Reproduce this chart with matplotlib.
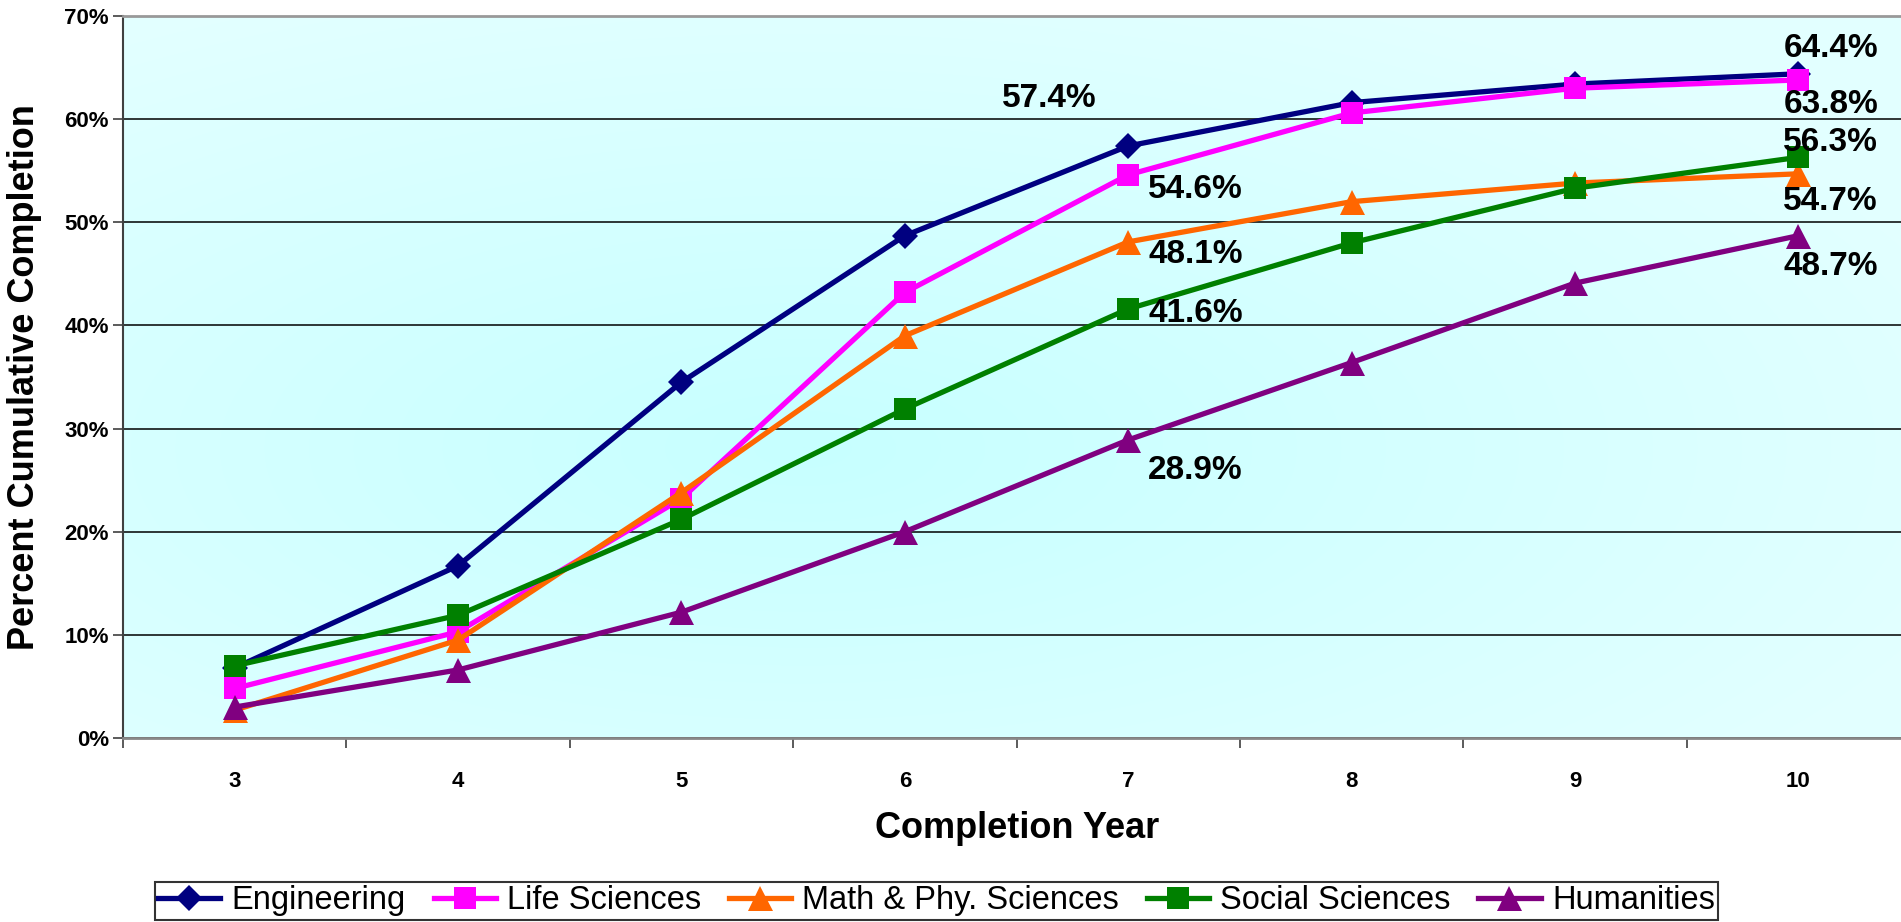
import numpy as np
import matplotlib.pyplot as plt
from matplotlib.ticker import FixedLocator, FuncFormatter

plt.rcParams['font.family'] = ['Liberation Sans', 'DejaVu Sans']

# ---------------- DATA ----------------
years = [3, 4, 5, 6, 7, 8, 9, 10]
engineering = [6.8, 16.7, 34.5, 48.7, 57.4, 61.6, 63.4, 64.4]
life_sciences = [4.8, 10.3, 23.2, 43.2, 54.6, 60.6, 63.0, 63.8]
math_phys = [2.7, 9.5, 23.8, 39.0, 48.1, 52.0, 53.8, 54.7]
social_sciences = [7.0, 11.9, 21.2, 31.9, 41.6, 48.0, 53.3, 56.3]
humanities = [3.0, 6.6, 12.2, 20.0, 28.9, 36.4, 44.1, 48.7]

series_names = ["Engineering", "Life Sciences", "Math & Phy. Sciences",
                "Social Sciences", "Humanities"]
labelled_years = [7, 10]

# ---------------- FIGURE ----------------
W, H = 1901, 922
fig = plt.figure(figsize=(W / 100, H / 100), dpi=100)
ax = fig.add_axes([123 / W, 1 - 738 / H, (1910 - 123) / W, (738 - 16) / H])

# light cyan radial gradient for the plot area
gx, gy = np.meshgrid(np.linspace(0, 1, 400), np.linspace(0, 1, 200))
r = np.sqrt(((gx - 0.38) / 0.7) ** 2 + ((gy - 0.4) / 0.7) ** 2)
r = np.clip(r, 0, 1)
c0 = np.array([0.78, 1.0, 1.0])
c1 = np.array([0.89, 1.0, 1.0])
img = c0[None, None, :] * (1 - r[..., None]) + c1[None, None, :] * r[..., None]
ax.imshow(img, extent=(0, 1, 0, 1), transform=ax.transAxes, aspect="auto",
          origin="lower", zorder=0, interpolation="bilinear")

styles = [
    (engineering, "#000080", "D", 13),
    (life_sciences, "#FF00FF", "s", 16),
    (math_phys, "#FF6600", "^", 18),
    (social_sciences, "#008000", "s", 16),
    (humanities, "#800080", "^", 18),
]

for (vals, col, mk, ms), name in zip(styles, series_names):
    ax.plot(years, vals, color=col, lw=3.8, marker=mk, markersize=ms,
            markeredgewidth=0, label=name, zorder=3)

# data labels (pixel offsets from the point, baseline aligned)
offsets = {
    (0, 7): (-32, 39, "right"), (1, 7): (20, -23, "left"), (2, 7): (20, -21, "left"),
    (3, 7): (20, -13, "left"), (4, 7): (20, -39, "left"),
    (0, 10): (-15, 17, "left"), (1, 10): (-15, -33, "left"), (2, 10): (-15, -36, "left"),
    (3, 10): (-15, 6, "left"), (4, 10): (-15, -39, "left"),
}
for i, (vals, col, mk, ms) in enumerate(styles):
    for yr in labelled_years:
        v = vals[years.index(yr)]
        dx, dy, ha = offsets[(i, yr)]
        ax.annotate(f"{v:.1f}%", (yr, v), xytext=(dx, dy), textcoords="offset pixels",
                    ha=ha, va="baseline", fontsize=24, fontweight="bold", zorder=4)

# ---------------- AXES ----------------
ax.set_xlim(2.5, 10.5)
ax.set_ylim(0, 70)
ax.set_yticks(range(0, 71, 10))
ax.yaxis.set_major_formatter(FuncFormatter(lambda v, p: f"{int(v)}%"))
ax.set_xticks(years)
ax.xaxis.set_minor_locator(FixedLocator(np.arange(2.5, 10.6, 1)))
ax.tick_params(axis="x", which="major", length=0, pad=24, labelsize=16)
ax.tick_params(axis="x", which="minor", length=7, width=1.2, color="#404040")
ax.tick_params(axis="y", length=7, width=1.2, pad=3, labelsize=16, color="#404040")
for lab in ax.get_xticklabels() + ax.get_yticklabels():
    lab.set_fontweight("bold")

ax.yaxis.grid(True, color="black", lw=1.1, zorder=1)
ax.set_axisbelow(True)
ax.spines["right"].set_visible(False)
ax.spines["top"].set_color("#999999")
ax.spines["top"].set_linewidth(2)
ax.spines["bottom"].set_color("#888888")
ax.spines["bottom"].set_linewidth(2)
ax.spines["left"].set_color("#404040")
ax.spines["left"].set_linewidth(1.5)

fig.text(25 / W, 1 - 377 / H, "Percent Cumulative Completion", rotation=90,
         ha="center", va="center", fontsize=26, fontweight="bold")
fig.text(1017 / W, 1 - 828 / H, "Completion Year", ha="center", va="center",
         fontsize=26, fontweight="bold")

leg = fig.legend(loc="upper left", bbox_to_anchor=(155 / W, 1 - 882 / H), ncol=5,
                 fontsize=23.5, frameon=True, fancybox=False, edgecolor="black",
                 borderaxespad=0, borderpad=0.1, handlelength=1.9, handletextpad=0.35,
                 columnspacing=0.85)
leg.get_frame().set_linewidth(1.5)

fig.savefig("out.png", dpi=100, facecolor="white")
